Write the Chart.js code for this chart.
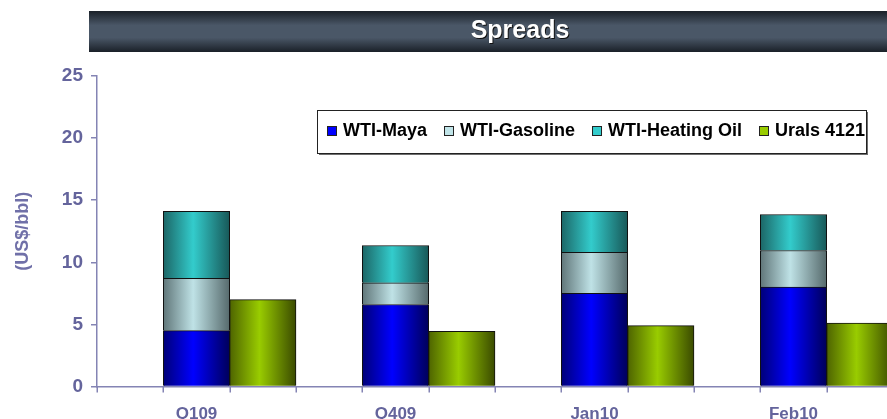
<!DOCTYPE html>
<html>
<head>
<meta charset="utf-8">
<script src="https://cdn.jsdelivr.net/npm/chart.js@4/dist/chart.umd.min.js"></script>
<style>
  html, body { margin: 0; padding: 0; background: #fff; overflow: hidden; }
  canvas { display: block; }
</style>
</head>
<body>
<canvas id="chart-1" width="900" height="419"></canvas>
<script>
const categories = ["Q109", "Q409", "Jan10", "Feb10"];
const wtiMaya = [4.5, 6.6, 7.5, 8.0];
const wtiGasoline = [4.2, 1.75, 3.3, 2.95];
const wtiHeatingOil = [5.4, 3.0, 3.3, 2.9];
const urals4121 = [7.0, 4.45, 4.9, 5.1];
const yTicks = [0, 5, 10, 15, 20, 25];

// each category is 3 slots wide on the axis: empty, WTI stack, Urals
const slotLabels = categories.flatMap(c => ["", c, ""]);
const toSlots = (vals, slot) => slotLabels.map((_, j) => (j % 3 === slot ? vals[(j - slot) / 3] : null));

const FONT = '"Liberation Sans", Arial, sans-serif';
const axisColor = "#8484b4";
const labelColor = "#64649c";

// horizontal "cylinder" shading for each bar
function shade(stops) {
  return function (ctx) {
    const xs = ctx.chart.scales && ctx.chart.scales.x;
    if (ctx.type !== "data" || !xs) return stops[1];
    const w = xs.getPixelForValue(1) - xs.getPixelForValue(0);
    const c = xs.getPixelForValue(ctx.dataIndex);
    if (!isFinite(w) || !isFinite(c) || w <= 0) return stops[1];
    const g = ctx.chart.ctx.createLinearGradient(c - w / 2, 0, c + w / 2, 0);
    g.addColorStop(0, stops[0]);
    g.addColorStop(0.45, stops[1]);
    g.addColorStop(1, stops[2]);
    return g;
  };
}

const titleBar = {
  id: "titleBar",
  beforeDraw(chart) {
    const c = chart.ctx;
    c.save();
    const g = c.createLinearGradient(0, 11, 0, 52);
    g.addColorStop(0, "#1a2028");
    g.addColorStop(0.35, "#4a5767");
    g.addColorStop(0.65, "#4a5767");
    g.addColorStop(1, "#1a2028");
    c.fillStyle = g;
    c.fillRect(89, 11, chart.width - 89, 41);
    c.font = "bold 25px " + FONT;
    c.textAlign = "center";
    c.textBaseline = "middle";
    c.fillStyle = "#111";
    c.fillText("Spreads", 521, 32);
    c.fillStyle = "#fff";
    c.fillText("Spreads", 520, 31);
    c.restore();
  }
};

// small tick marks under the x axis at every slot boundary
const slotMarks = {
  id: "slotMarks",
  afterDraw(chart) {
    const xs = chart.scales.x, c = chart.ctx, b = chart.chartArea.bottom;
    c.save();
    c.strokeStyle = axisColor;
    c.lineWidth = 1.5;
    c.beginPath();
    for (let i = 0; i <= slotLabels.length; i++) {
      const px = Math.round(xs.getPixelForValue(i - 0.5)) + 0.25;
      c.moveTo(px, b);
      c.lineTo(px, b + 6);
    }
    c.stroke();
    c.restore();
  }
};

const legendBox = {
  id: "legendBox",
  afterDraw(chart) {
    const c = chart.ctx;
    const x0 = 317, y0 = 110, w = 549, h = 43, cy = 131;
    c.save();
    c.fillStyle = "#6e6e6e";
    c.fillRect(x0 + 2, y0 + 2, w, h);
    c.fillStyle = "#fff";
    c.fillRect(x0, y0, w, h);
    c.strokeStyle = "#222";
    c.lineWidth = 1;
    c.strokeRect(x0 + 0.5, y0 + 0.5, w, h);
    c.font = "bold 18px " + FONT;
    c.textBaseline = "middle";
    let x = 327;
    chart.data.datasets.forEach(ds => {
      c.fillStyle = ds.swatch;
      c.fillRect(x, cy - 5, 10, 10);
      c.strokeStyle = "#222";
      c.strokeRect(x + 0.5, cy - 4.5, 9, 9);
      c.fillStyle = "#000";
      c.fillText(ds.label, x + 16, cy);
      x += 16 + c.measureText(ds.label).width + 17;
    });
    c.restore();
  }
};

const bar = { categoryPercentage: 1, barPercentage: 1, borderWidth: 1, borderColor: "#111" };

new Chart(document.getElementById("chart-1"), {
  type: "bar",
  data: {
    labels: slotLabels,
    datasets: [
      { ...bar, label: "WTI-Maya", data: toSlots(wtiMaya, 1), swatch: "#0000ff",
        backgroundColor: shade(["#000078", "#0000ff", "#00005a"]) },
      { ...bar, label: "WTI-Gasoline", data: toSlots(wtiGasoline, 1), swatch: "#c0e4e8",
        backgroundColor: shade(["#607679", "#bfe2e6", "#566a6c"]) },
      { ...bar, label: "WTI-Heating Oil", data: toSlots(wtiHeatingOil, 1), swatch: "#33cccc",
        backgroundColor: shade(["#1c6666", "#33cccc", "#185858"]) },
      { ...bar, label: "Urals 4121", data: toSlots(urals4121, 2), swatch: "#99cc00",
        backgroundColor: shade(["#4e6400", "#99cc00", "#3a4a00"]) }
    ]
  },
  options: {
    responsive: false,
    animation: false,
    layout: { padding: { top: 76, right: 7, left: 0, bottom: 0 } },
    plugins: { legend: { display: false }, tooltip: { enabled: false } },
    scales: {
      x: {
        stacked: true,
        offset: true,
        grid: { display: false, drawTicks: false },
        border: { color: axisColor, width: 1.5 },
        ticks: {
          padding: 18, autoSkip: false, maxRotation: 0, minRotation: 0,
          color: labelColor, font: { family: FONT, size: 17, weight: "bold" }
        },
        afterFit: s => { s.height = 32.5; s.paddingLeft = 0; s.paddingRight = 0; }
      },
      y: {
        stacked: true,
        min: 0,
        max: 25,
        afterBuildTicks: s => { s.ticks = yTicks.map(v => ({ value: v })); },
        grid: { drawOnChartArea: false, tickLength: 6, color: axisColor, lineWidth: 1.5 },
        border: { color: axisColor, width: 1.5 },
        ticks: { padding: 8, color: labelColor, font: { family: FONT, size: 19, weight: "bold" } },
        title: {
          display: true, text: "(US$/bbl)", color: "#7070a8",
          font: { family: FONT, size: 18, weight: "bold" }, padding: { top: 12, bottom: 0 }
        },
        afterFit: s => { s.width = 97; s.paddingTop = 0; s.paddingBottom = 0; }
      }
    }
  },
  plugins: [titleBar, slotMarks, legendBox]
});
</script>
</body>
</html>
